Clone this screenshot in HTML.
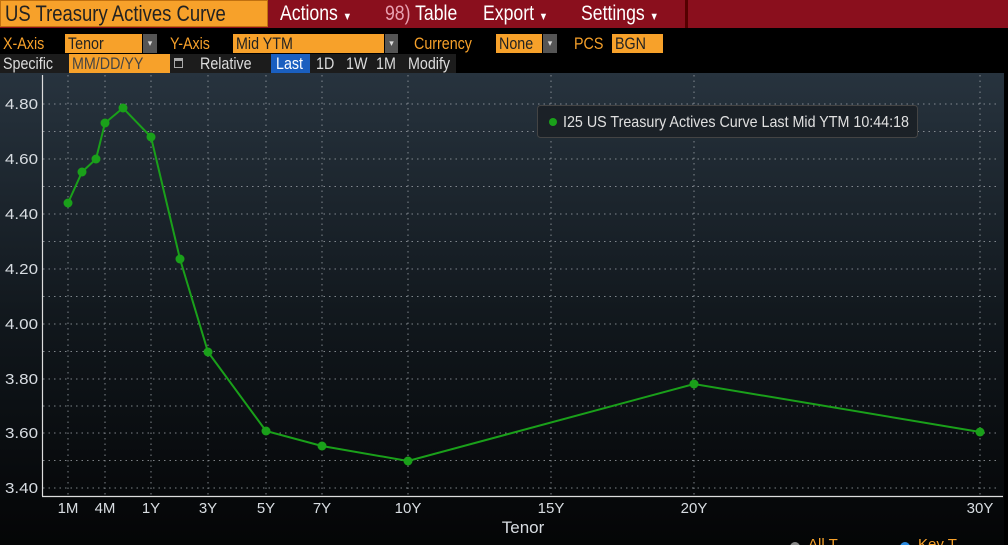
<!DOCTYPE html>
<html><head><meta charset="utf-8"><style>
*{margin:0;padding:0;box-sizing:border-box}
body{width:1008px;height:545px;background:#000;overflow:hidden;position:relative;font-family:"Liberation Sans",sans-serif;}
.a{position:absolute;white-space:nowrap}
.s{display:inline-block;transform:scaleX(.84);transform-origin:0 50%}
.btn{position:absolute;top:0;height:27px;background:#8a0f1d;color:#fff;font-size:21px;line-height:27px;padding-left:9px}
.or{color:#f7a12a;font-size:17px;line-height:19px}
.box{position:absolute;background:#f7a12a;color:#222;font-size:17px;line-height:19px;padding-left:3px}
.dd{position:absolute;background:#555;color:#ddd;font-size:9px;text-align:center;line-height:19px}
.w{color:#ddd;font-size:17px;line-height:19px}
</style></head><body>
<div class="a" style="left:0;top:0;width:1008px;height:28px;background:#8a0f1d"></div>
<div class="a" style="left:0;top:0;width:268px;height:27px;background:#f7a12a;color:#222;font-size:22px;line-height:26px;padding-left:4px;border:1px solid #c07010"><span class="s">US Treasury Actives Curve</span></div>
<div class="btn" style="left:271px;width:102px"><span class="s">Actions <small style="font-size:11px">▼</small></span></div>
<div class="btn" style="left:376px;width:96px"><span class="s"><span style="color:#e8a0b0">98)</span> Table</span></div>
<div class="btn" style="left:474px;width:96px"><span class="s">Export <small style="font-size:11px">▼</small></span></div>
<div class="btn" style="left:572px;width:113px"><span class="s">Settings <small style="font-size:11px">▼</small></span></div>
<div class="a" style="left:685px;top:0;width:3px;height:28px;background:#500"></div>

<div class="a or" style="left:3px;top:34px"><span class="s">X-Axis</span></div>
<div class="box" style="left:65px;top:34px;width:77px"><span class="s">Tenor</span></div><div class="dd" style="left:143px;top:34px;width:14px;height:19px">▾</div>
<div class="a or" style="left:170px;top:34px"><span class="s">Y-Axis</span></div>
<div class="box" style="left:233px;top:34px;width:151px"><span class="s">Mid YTM</span></div><div class="dd" style="left:385px;top:34px;width:13px;height:19px">▾</div>
<div class="a or" style="left:414px;top:34px"><span class="s">Currency</span></div>
<div class="box" style="left:496px;top:34px;width:46px"><span class="s">None</span></div><div class="dd" style="left:543px;top:34px;width:14px;height:19px">▾</div>
<div class="a or" style="left:574px;top:34px"><span class="s">PCS</span></div>
<div class="box" style="left:612px;top:34px;width:51px"><span class="s">BGN</span></div>

<div class="a" style="left:0;top:54px;width:456px;height:19px;background:#1c1c1c"></div>
<div class="a w" style="left:3px;top:54px"><span class="s">Specific</span></div>
<div class="box" style="left:69px;top:54px;width:101px;color:#444"><span class="s">MM/DD/YY</span></div>
<div class="a" style="left:174px;top:58px;width:9px;height:10px;border:1px solid #aaa;border-top:3px solid #aaa"></div>
<div class="a w" style="left:200px;top:54px"><span class="s">Relative</span></div>
<div class="a w" style="left:271px;top:54px;width:39px;height:19px;background:#1a5fc0;color:#fff;padding-left:5px"><span class="s">Last</span></div>
<div class="a w" style="left:316px;top:54px"><span class="s">1D</span></div>
<div class="a w" style="left:346px;top:54px"><span class="s">1W</span></div>
<div class="a w" style="left:376px;top:54px"><span class="s">1M</span></div>
<div class="a w" style="left:408px;top:54px"><span class="s">Modify</span></div>

<svg class="a" style="left:0;top:73px" width="1008" height="472" viewBox="0 73 1008 472">
<defs><linearGradient id="g" x1="0" y1="0" x2="0" y2="1"><stop offset="0" stop-color="#27333e"/><stop offset="0.55" stop-color="#10161b"/><stop offset="1" stop-color="#040506"/></linearGradient></defs>
<rect x="0" y="73" width="1004" height="472" fill="url(#g)"/>
<rect x="1004" y="73" width="4" height="472" fill="#000"/>
<g stroke="#9aa0a6" stroke-width="1" stroke-dasharray="1.5,4" opacity="0.8">
<line x1="43" x2="1000" y1="104" y2="104"/><line x1="43" x2="1000" y1="131.5" y2="131.5"/>
<line x1="43" x2="1000" y1="159" y2="159"/><line x1="43" x2="1000" y1="186.5" y2="186.5"/>
<line x1="43" x2="1000" y1="214" y2="214"/><line x1="43" x2="1000" y1="241.5" y2="241.5"/>
<line x1="43" x2="1000" y1="269" y2="269"/><line x1="43" x2="1000" y1="296.5" y2="296.5"/>
<line x1="43" x2="1000" y1="324" y2="324"/><line x1="43" x2="1000" y1="351.5" y2="351.5"/>
<line x1="43" x2="1000" y1="379" y2="379"/><line x1="43" x2="1000" y1="406" y2="406"/>
<line x1="43" x2="1000" y1="433" y2="433"/><line x1="43" x2="1000" y1="460.5" y2="460.5"/>
<line x1="43" x2="1000" y1="488" y2="488"/>
<line y1="75" y2="496" x1="68" x2="68"/><line y1="75" y2="496" x1="105" x2="105"/>
<line y1="75" y2="496" x1="151" x2="151"/><line y1="75" y2="496" x1="208" x2="208"/>
<line y1="75" y2="496" x1="266" x2="266"/><line y1="75" y2="496" x1="322" x2="322"/>
<line y1="75" y2="496" x1="408" x2="408"/><line y1="75" y2="496" x1="551" x2="551"/>
<line y1="75" y2="496" x1="694" x2="694"/><line y1="75" y2="496" x1="980" x2="980"/>
</g>
<line x1="42.5" y1="75" x2="42.5" y2="496" stroke="#ddd" stroke-width="1.2"/>
<line x1="42" y1="496.5" x2="1003" y2="496.5" stroke="#ddd" stroke-width="1.2"/>
<g fill="#d8dde2" font-family="Liberation Sans,sans-serif" font-size="15">
<g text-anchor="end"><text x="38" y="109" textLength="33" lengthAdjust="spacingAndGlyphs">4.80</text><text x="38" y="164" textLength="33" lengthAdjust="spacingAndGlyphs">4.60</text><text x="38" y="219" textLength="33" lengthAdjust="spacingAndGlyphs">4.40</text><text x="38" y="274" textLength="33" lengthAdjust="spacingAndGlyphs">4.20</text><text x="38" y="329" textLength="33" lengthAdjust="spacingAndGlyphs">4.00</text><text x="38" y="384" textLength="33" lengthAdjust="spacingAndGlyphs">3.80</text><text x="38" y="438" textLength="33" lengthAdjust="spacingAndGlyphs">3.60</text><text x="38" y="493" textLength="33" lengthAdjust="spacingAndGlyphs">3.40</text></g>
<g text-anchor="middle"><text x="68" y="513">1M</text><text x="105" y="513">4M</text><text x="151" y="513">1Y</text><text x="208" y="513">3Y</text><text x="266" y="513">5Y</text><text x="322" y="513">7Y</text><text x="408" y="513">10Y</text><text x="551" y="513">15Y</text><text x="694" y="513">20Y</text><text x="980" y="513">30Y</text>
<text x="523" y="533" font-size="17">Tenor</text></g>
</g>
<polyline fill="none" stroke="#1aa01a" stroke-width="2" points="68,203 82,172 96,159 105,123 123,108 151,137 180,259 208,352 266,431 322,446 408,461 694,384 980,432"/>
<g fill="#1aa01a"><circle cx="68" cy="203" r="4.5"/><circle cx="82" cy="172" r="4.5"/><circle cx="96" cy="159" r="4.5"/><circle cx="105" cy="123" r="4.5"/><circle cx="123" cy="108" r="4.5"/><circle cx="151" cy="137" r="4.5"/><circle cx="180" cy="259" r="4.5"/><circle cx="208" cy="352" r="4.5"/><circle cx="266" cy="431" r="4.5"/><circle cx="322" cy="446" r="4.5"/><circle cx="408" cy="461" r="4.5"/><circle cx="694" cy="384" r="4.5"/><circle cx="980" cy="432" r="4.5"/></g>
<rect x="537.5" y="105.5" width="380" height="32" rx="3" fill="#1b2127" stroke="#444"/>
<circle cx="553" cy="122" r="4" fill="#1aa01a"/>
<text x="563" y="127" fill="#e0e0e0" font-family="Liberation Sans,sans-serif" font-size="16" textLength="346" lengthAdjust="spacingAndGlyphs">I25 US Treasury Actives Curve Last Mid YTM 10:44:18</text>
<circle cx="795" cy="547" r="5" fill="#888"/><text x="808" y="549" fill="#f7a12a" font-size="15" font-family="Liberation Sans,sans-serif">All T</text>
<circle cx="905" cy="547" r="5" fill="#2a8ae0"/><text x="918" y="549" fill="#f7a12a" font-size="15" font-family="Liberation Sans,sans-serif">Key T</text>
</svg>
</body></html>
